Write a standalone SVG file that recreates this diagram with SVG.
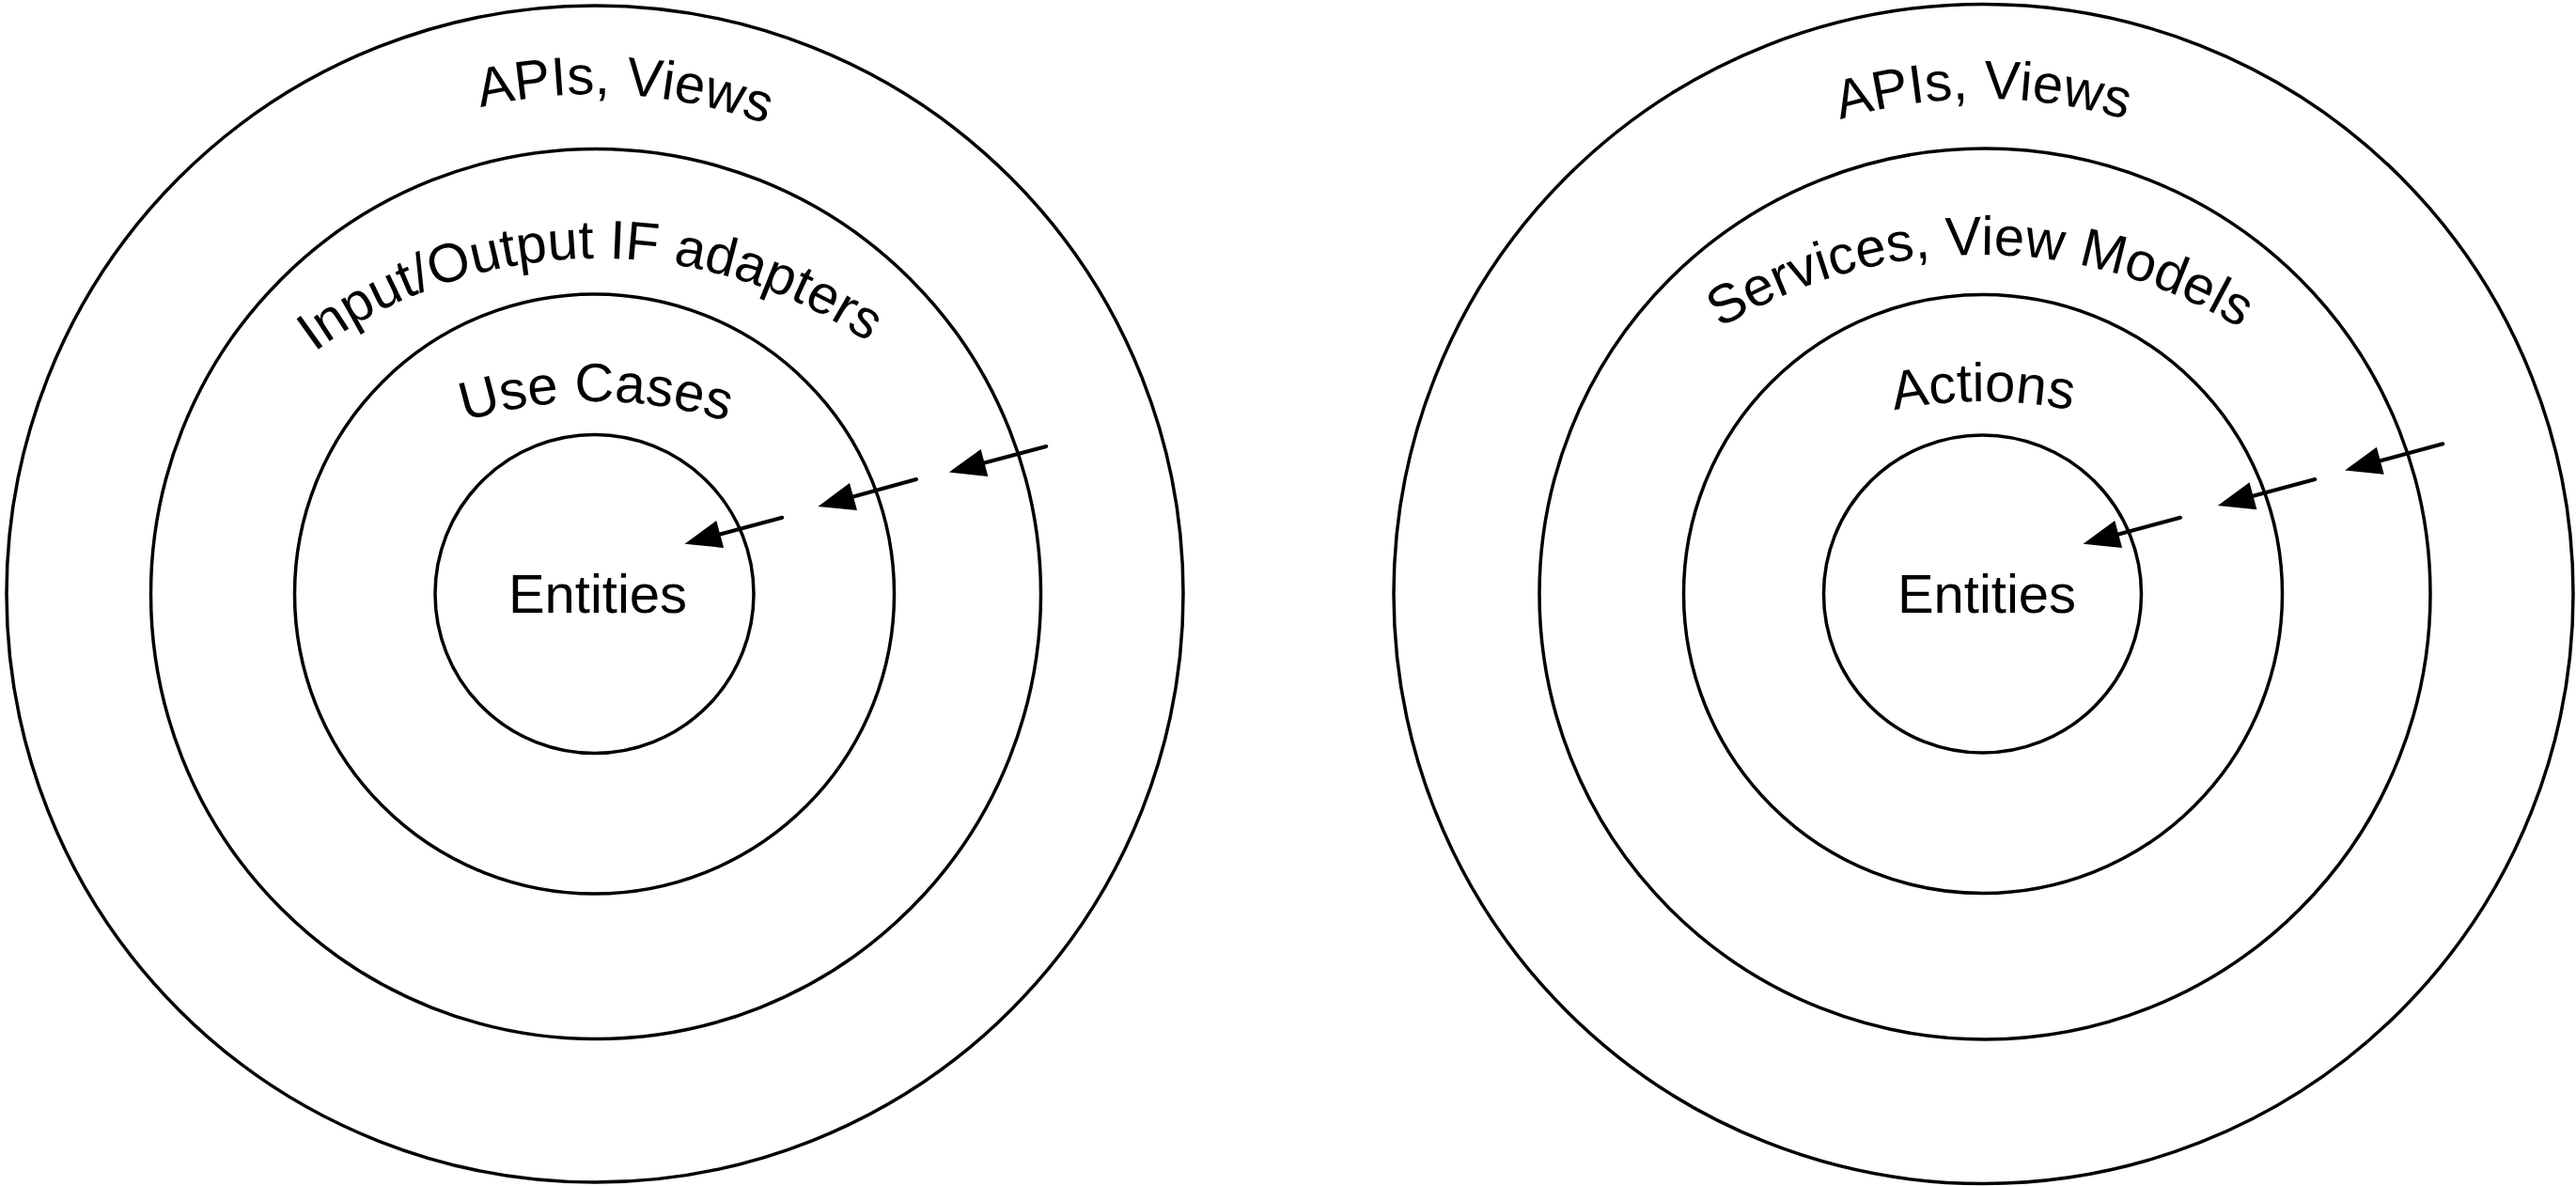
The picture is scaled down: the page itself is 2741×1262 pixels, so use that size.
<svg xmlns="http://www.w3.org/2000/svg" width="2741" height="1262" viewBox="0 0 2741 1262">
<style>
.ring{fill:none;stroke:#000;stroke-width:3.5}
.lbl{font-family:"Liberation Sans",Arial,Helvetica,sans-serif;font-size:58px;fill:#000}
.arr{fill:none;stroke:#000;stroke-width:4;stroke-linecap:round}
</style>
<defs>
<marker id="head" markerUnits="userSpaceOnUse" markerWidth="50" markerHeight="40" refX="0" refY="0" viewBox="-2 -20 46 40" orient="auto" overflow="visible">
<path d="M0,-15 L39,0 L0,15 z" fill="#000"/>
</marker>
<path id="pL1" d="M101.9,600.5 A532,532 0 0 1 1164.1,663.5"/>
<path id="pL2" d="M131.1,783.8 A505,505 0 0 1 1140.9,766.2"/>
<path id="pL3" d="M164,897 A470,470 0 0 1 1104,897"/>
<path id="pR1" d="M1583,632 A527,527 0 0 1 2637,632"/>
<path id="pR2" d="M1581,797 A526,526 0 0 1 2633,797"/>
<path id="pR3" d="M1640,897 A470,470 0 0 1 2580,897"/>
</defs>
<rect width="2741" height="1262" fill="#fff"/>
<g id="left-outer"><circle class="ring" cx="633" cy="632" r="626"/><text class="lbl" text-anchor="middle"><textPath href="#pL1" startOffset="50%">APIs, Views</textPath></text></g>
<g id="left-ring2"><circle class="ring" cx="634" cy="632" r="473.5"/><text class="lbl" text-anchor="middle" font-size="59"><textPath href="#pL2" startOffset="50%">Input/Output IF adapters</textPath></text></g>
<g id="left-ring3"><circle class="ring" cx="632.5" cy="632" r="319"/><text class="lbl" text-anchor="middle"><textPath href="#pL3" startOffset="50%">Use Cases</textPath></text></g>
<g id="left-core"><circle class="ring" cx="632.5" cy="632" r="169.5"/><text class="lbl" x="636" y="652" text-anchor="middle">Entities</text></g>
<g id="right-outer"><circle class="ring" cx="2110.5" cy="632" r="627.5"/><text class="lbl" text-anchor="middle"><textPath href="#pR1" startOffset="50%">APIs, Views</textPath></text></g>
<g id="right-ring2"><circle class="ring" cx="2112" cy="632" r="474"/><text class="lbl" text-anchor="middle"><textPath href="#pR2" startOffset="50%">Services, View Models</textPath></text></g>
<g id="right-ring3"><circle class="ring" cx="2110" cy="632" r="318.5"/><text class="lbl" text-anchor="middle"><textPath href="#pR3" startOffset="50%">Actions</textPath></text></g>
<g id="right-core"><circle class="ring" cx="2109.5" cy="632" r="169"/><text class="lbl" x="2114" y="652" text-anchor="middle">Entities</text></g>
<g id="connectors">
<path class="arr" d="M1113.3,475 L1047.5,492.5" marker-end="url(#head)"/>
<path class="arr" d="M975,510 L908,528.5" marker-end="url(#head)"/>
<path class="arr" d="M832.3,550.7 L766.2,568.5" marker-end="url(#head)"/>
<path class="arr" d="M2599.3,472.3 L2532.8,490.3" marker-end="url(#head)"/>
<path class="arr" d="M2463.3,510 L2397.5,527.8" marker-end="url(#head)"/>
<path class="arr" d="M2320,550.7 L2254.2,568.5" marker-end="url(#head)"/>
</g>
</svg>
